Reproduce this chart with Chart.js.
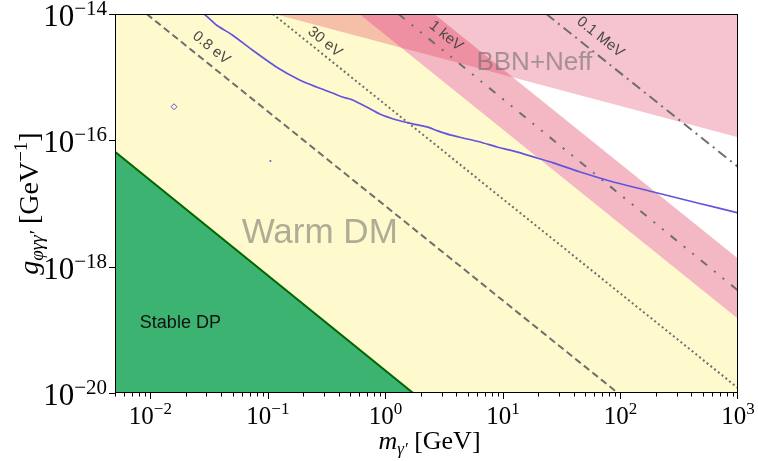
<!DOCTYPE html>
<html><head><meta charset="utf-8">
<script src="https://cdn.jsdelivr.net/npm/chart.js@4.4.1/dist/chart.umd.min.js"></script>
<style>html,body{margin:0;padding:0;background:#fff}</style>
</head><body>
<canvas id="c" width="758" height="461"></canvas>
<script>
// axis ranges and tick decades
const xRange=[5e-3,1e3];
const yRange=[1e-20,1e-14];
const xTickExps=[-2,-1,0,1,2,3];
const yTickExps=[-14,-16,-18,-20];

// region edges [mass GeV, coupling GeV^-1]
const warmEdge=[[5e-3,1e-14],[0.6,1e-14],[1e3,1.5e-19]];
const bandEdge=[[5e-3,1e-14],[2.6,1e-14],[1e3,1.35e-18]];
const stableEdge=[[5e-3,6.6e-17],[1.72,1e-20]];
const bbnEdge=[[0.114,1e-14],[1e3,1.12e-16]];

// temperature contours
const t08eV=[[0.0093,1e-14],[95,1e-20]];
const t30eV=[[0.11,1e-14],[1e3,1.2e-20]];
const t1keV=[[1.29,1e-14],[1e3,4.2e-19]];
const t01MeV=[[23.4,1e-14],[1e3,3.8e-17]];

// blue limit curve
const limitCurve=[[0.0287,1e-14],[0.0364,6.7e-15],[0.0498,4.65e-15],[0.0737,2.69e-15],[0.118,1.45e-15],
  [0.186,9.0e-16],[0.259,6.98e-16],[0.355,5.6e-16],[0.432,4.85e-16],[0.526,4.35e-16],[0.692,3.37e-16],
  [0.894,2.61e-16],[1.25,2.1e-16],[1.71,1.82e-16],[2.25,1.63e-16],[2.79,1.41e-16],[3.54,1.22e-16],
  [4.56,1.09e-16],[6.38,9.4e-17],[8.9,7.85e-17],[12.2,6.8e-17],[19.5,5.25e-17],[26.8,4.4e-17],
  [45.5,3.15e-17],[87,2.19e-17],[191,1.52e-17],[453,1.02e-17],[1000,7.1e-18]];
const limitSpeck=[[0.0159,3.4e-16]];
const limitDot=[[0.105,4.7e-17]];

// text labels [text, x, y]
const contourLabels=[['0.8 eV',0.033,2.9e-15,t08eV],['30 eV',0.305,3.6e-15,t30eV],['1 keV',3.27,4.5e-15,t1keV],['0.1 MeV',67.4,4.3e-15,t01MeV]];
const regionLabels=[['BBN+Neff',18.5,1.67e-15],['Warm DM',0.276,3.4e-18],['Stable DP',0.018,1.3e-19]];

const pts=a=>a.map(([x,y])=>({x,y}));
const SERIF="'Liberation Serif','DejaVu Serif',serif";
const SANS="'Liberation Sans',Arial,sans-serif";
const GRAY='#6e6e6e';

function rich(ctx,parts,x,y,align){
  let w=0;for(const p of parts){ctx.font=p.f;w+=ctx.measureText(p.t).width;}
  let cx=align==='right'?x-w:align==='center'?x-w/2:x;
  ctx.textAlign='left';ctx.textBaseline='alphabetic';
  for(const p of parts){ctx.font=p.f;ctx.fillText(p.t,cx,y+(p.dy||0));cx+=ctx.measureText(p.t).width;}
}

const decor={id:'decor',
  afterDatasetsDraw(chart){
    const {ctx,scales:{x,y}}=chart;
    ctx.save();
    ctx.fillStyle='#4a4a4a';ctx.font='15px '+SANS;ctx.textAlign='center';ctx.textBaseline='middle';
    for(const [t,mx,my,line] of contourLabels){
      const dx=x.getPixelForValue(line[1][0])-x.getPixelForValue(line[0][0]);
      const dy=y.getPixelForValue(line[1][1])-y.getPixelForValue(line[0][1]);
      ctx.save();ctx.translate(x.getPixelForValue(mx),y.getPixelForValue(my));ctx.rotate(Math.atan2(dy,dx));
      ctx.fillText(t,0,0);ctx.restore();
    }
    const styles={'BBN+Neff':['26px '+SANS,'rgba(110,110,110,0.6)'],'Warm DM':['35px '+SANS,'rgba(125,125,115,0.62)'],'Stable DP':['18px '+SANS,'#111']};
    for(const [t,mx,my] of regionLabels){
      ctx.font=styles[t][0];ctx.fillStyle=styles[t][1];
      ctx.fillText(t,x.getPixelForValue(mx),y.getPixelForValue(my));
    }
    ctx.restore();
  },
  afterDraw(chart){
    const {ctx,chartArea:a,scales:{x,y}}=chart;
    ctx.save();
    ctx.strokeStyle='#000';ctx.lineWidth=1;
    ctx.strokeRect(a.left+0.5,a.top+0.5,a.right-a.left-1,a.bottom-a.top-1);
    ctx.beginPath();
    for(let e=-3;e<=2;e++)for(let k=1;k<10;k++){
      const v=k*Math.pow(10,e);if(v<xRange[0]||v>xRange[1])continue;
      const px=Math.round(x.getPixelForValue(v))+0.5;
      ctx.moveTo(px,a.bottom);ctx.lineTo(px,a.bottom+(k===1?6:3.5));
    }
    ctx.moveTo(x.right-0.5,a.bottom);ctx.lineTo(x.right-0.5,a.bottom+6);
    for(const e of yTickExps){
      const py=Math.round(y.getPixelForValue(Math.pow(10,e)))+0.5;
      ctx.moveTo(a.left,py);ctx.lineTo(a.left-6,py);
    }
    ctx.stroke();
    ctx.fillStyle='#000';
    for(const e of xTickExps){
      const px=x.getPixelForValue(Math.pow(10,e));
      rich(ctx,[{t:'10',f:'25px '+SERIF},{t:(e<0?'\u2212':'')+Math.abs(e),f:'17px '+SERIF,dy:-10}],px,a.bottom+31,'center');
    }
    for(const e of yTickExps){
      const py=y.getPixelForValue(Math.pow(10,e));
      rich(ctx,[{t:'10',f:'31px '+SERIF},{t:'\u2212'+Math.abs(e),f:'21px '+SERIF,dy:-11}],107,py+12,'right');
    }
    rich(ctx,[{t:'m',f:'italic 26px '+SERIF},{t:'\u03b3\u2032',f:'italic 17px '+SERIF,dy:5},{t:' [GeV]',f:'26px '+SERIF}],(a.left+a.right)/2+3,449,'center');
    ctx.save();ctx.translate(38,(a.top+a.bottom)/2);ctx.rotate(-Math.PI/2);
    rich(ctx,[{t:'g',f:'italic 28px '+SERIF},{t:'\u03c6\u03b3\u03b3\u2032',f:'italic 19px '+SERIF,dy:5},{t:' [GeV',f:'28px '+SERIF},{t:'\u22121',f:'19px '+SERIF,dy:-11},{t:']',f:'28px '+SERIF}],0,0,'center');
    ctx.restore();
    ctx.restore();
  }
};

const line=(data,o)=>Object.assign({data:pts(data),showLine:true,pointRadius:0,borderWidth:0,clip:0,fill:false,tension:0},o);

new Chart(document.getElementById('c'),{
  type:'scatter',
  data:{datasets:[
    line(bandEdge,{fill:'start',backgroundColor:'rgba(220,20,60,0.3)',order:10}),
    line(warmEdge,{fill:'start',backgroundColor:'#fffacd',order:9}),
    line(stableEdge,{fill:'start',backgroundColor:'#3cb371',borderColor:'#006400',borderWidth:2,order:8}),
    line(bbnEdge,{fill:'end',backgroundColor:'rgba(220,20,60,0.25)',order:7}),
    line(t08eV,{borderColor:GRAY,borderWidth:2,borderDash:[7,4],order:5}),
    line(t30eV,{borderColor:GRAY,borderWidth:2,borderDash:[2,2.8],order:5}),
    line(t1keV,{borderColor:GRAY,borderWidth:2,borderDash:[8,9,2,9,2,9],order:5}),
    line(t01MeV,{borderColor:GRAY,borderWidth:2,borderDash:[10,5,2,5],order:5}),
    line(limitCurve,{borderColor:'rgb(98,84,220)',borderWidth:1.7,tension:0.2,order:1}),
    {data:pts(limitSpeck),pointStyle:'rectRot',pointRadius:3,borderWidth:1,borderColor:'rgb(98,84,220)',backgroundColor:'rgba(0,0,0,0)',order:0},
    {data:pts(limitDot),pointRadius:1,borderWidth:0,backgroundColor:'rgb(98,84,220)',order:0}
  ]},
  options:{
    responsive:false,animation:false,devicePixelRatio:1,
    layout:{padding:{top:14,right:20,left:0,bottom:0}},
    plugins:{legend:{display:false},tooltip:{enabled:false}},
    scales:{
      x:{type:'logarithmic',min:xRange[0],max:xRange[1],ticks:{display:false},grid:{display:false},border:{display:false},afterFit:s=>{s.height=68;}},
      y:{type:'logarithmic',min:yRange[0],max:yRange[1],ticks:{display:false},grid:{display:false},border:{display:false},afterFit:s=>{s.width=115;}}
    }
  },
  plugins:[decor]
});
</script>
</body></html>
